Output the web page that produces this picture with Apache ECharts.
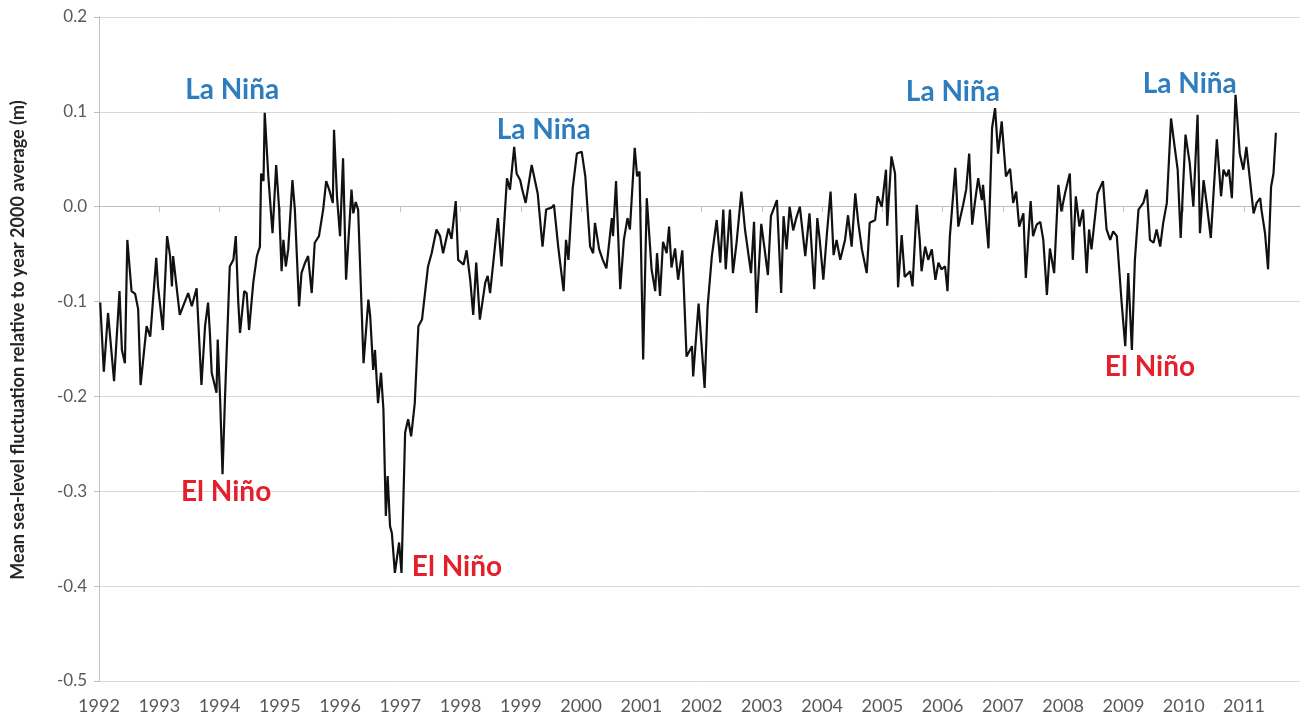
<!DOCTYPE html>
<html>
<head>
<meta charset="utf-8">
<title>Mean sea-level fluctuation</title>
<script src="https://cdn.jsdelivr.net/npm/echarts@6/dist/echarts.min.js"></script>
<style>
  html, body { margin: 0; padding: 0; background: #fff; }
  #chart { width: 1309px; height: 722px; }
</style>
</head>
<body>
<div id="chart"></div>
<script>
// decimal year of each sample
var years = [
  1992.02, 1992.08, 1992.15, 1992.25, 1992.34, 1992.38, 1992.43, 1992.47, 1992.54, 1992.60,
  1992.65, 1992.69, 1992.79, 1992.85, 1992.95, 1992.98, 1993.06, 1993.13, 1993.18, 1993.21,
  1993.23, 1993.34, 1993.48, 1993.54, 1993.62, 1993.70, 1993.76, 1993.81, 1993.84, 1993.87,
  1993.95, 1993.97, 1994.01, 1994.05, 1994.09, 1994.17, 1994.23, 1994.27, 1994.31, 1994.34,
  1994.41, 1994.45, 1994.49, 1994.56, 1994.62, 1994.67, 1994.69, 1994.73, 1994.75, 1994.81,
  1994.85, 1994.88, 1994.94, 1994.99, 1995.03, 1995.06, 1995.10, 1995.14, 1995.21, 1995.25,
  1995.32, 1995.36, 1995.42, 1995.47, 1995.53, 1995.58, 1995.65, 1995.72, 1995.77, 1995.82,
  1995.88, 1995.90, 1995.95, 1996.00, 1996.05, 1996.10, 1996.19, 1996.22, 1996.26, 1996.30,
  1996.39, 1996.47, 1996.50, 1996.55, 1996.58, 1996.63, 1996.68, 1996.72, 1996.76, 1996.79,
  1996.83, 1996.86, 1996.91, 1996.98, 1997.02, 1997.08, 1997.13, 1997.18, 1997.24, 1997.30,
  1997.36, 1997.46, 1997.52, 1997.60, 1997.66, 1997.71, 1997.80, 1997.85, 1997.92, 1997.96,
  1998.05, 1998.10, 1998.16, 1998.21, 1998.26, 1998.32, 1998.41, 1998.45, 1998.49, 1998.62,
  1998.68, 1998.77, 1998.82, 1998.89, 1998.93, 1998.99, 1999.02, 1999.08, 1999.18, 1999.28,
  1999.36, 1999.42, 1999.51, 1999.55, 1999.62, 1999.71, 1999.75, 1999.79, 1999.86, 1999.93,
  2000.01, 2000.07, 2000.15, 2000.20, 2000.23, 2000.30, 2000.36, 2000.42, 2000.51, 2000.53,
  2000.58, 2000.65, 2000.71, 2000.77, 2000.81, 2000.89, 2000.93, 2000.97, 2001.03, 2001.09,
  2001.17, 2001.23, 2001.26, 2001.31, 2001.36, 2001.42, 2001.46, 2001.50, 2001.56, 2001.61,
  2001.68, 2001.75, 2001.84, 2001.86, 2001.95, 2002.05, 2002.10, 2002.17, 2002.25, 2002.31,
  2002.36, 2002.40, 2002.47, 2002.52, 2002.58, 2002.66, 2002.72, 2002.82, 2002.87, 2002.91,
  2002.99, 2003.04, 2003.10, 2003.15, 2003.25, 2003.32, 2003.36, 2003.41, 2003.46, 2003.52,
  2003.57, 2003.63, 2003.72, 2003.79, 2003.87, 2003.92, 2003.96, 2004.02, 2004.08, 2004.14,
  2004.19, 2004.24, 2004.30, 2004.38, 2004.43, 2004.49, 2004.55, 2004.60, 2004.66, 2004.74,
  2004.79, 2004.88, 2004.92, 2004.99, 2005.06, 2005.08, 2005.15, 2005.21, 2005.26, 2005.32,
  2005.37, 2005.46, 2005.50, 2005.57, 2005.62, 2005.65, 2005.71, 2005.76, 2005.82, 2005.88,
  2005.93, 2005.98, 2006.04, 2006.08, 2006.12, 2006.21, 2006.26, 2006.34, 2006.39, 2006.44,
  2006.49, 2006.54, 2006.59, 2006.65, 2006.67, 2006.76, 2006.82, 2006.87, 2006.92, 2006.98,
  2007.05, 2007.12, 2007.17, 2007.22, 2007.27, 2007.34, 2007.38, 2007.46, 2007.50, 2007.56,
  2007.62, 2007.67, 2007.73, 2007.78, 2007.85, 2007.92, 2007.97, 2008.03, 2008.11, 2008.16,
  2008.21, 2008.27, 2008.33, 2008.39, 2008.43, 2008.47, 2008.57, 2008.66, 2008.72, 2008.78,
  2008.83, 2008.89, 2008.97, 2009.03, 2009.08, 2009.14, 2009.19, 2009.25, 2009.33, 2009.39,
  2009.44, 2009.50, 2009.55, 2009.61, 2009.66, 2009.72, 2009.79, 2009.85, 2009.90, 2009.95,
  2010.03, 2010.10, 2010.16, 2010.23, 2010.27, 2010.33, 2010.38, 2010.45, 2010.55, 2010.62,
  2010.66, 2010.71, 2010.75, 2010.80, 2010.86, 2010.93, 2010.99, 2011.04, 2011.10, 2011.16,
  2011.21, 2011.27, 2011.29, 2011.35, 2011.40, 2011.45, 2011.49, 2011.53
]

// sea level relative to 2000 average (m)
var seaLevel = [
  -0.101, -0.174, -0.112, -0.184, -0.089, -0.151, -0.165, -0.035, -0.089, -0.092,
  -0.108, -0.188, -0.126, -0.137, -0.054, -0.084, -0.130, -0.031, -0.052, -0.084,
  -0.052, -0.114, -0.091, -0.105, -0.086, -0.188, -0.126, -0.101, -0.133, -0.175,
  -0.196, -0.140, -0.203, -0.282, -0.203, -0.063, -0.056, -0.031, -0.099, -0.133,
  -0.089, -0.091, -0.130, -0.080, -0.052, -0.042, 0.035, 0.027, 0.099, 0.032,
  -0.003, -0.028, 0.044, -0.003, -0.068, -0.035, -0.063, -0.045, 0.028, -0.003,
  -0.105, -0.070, -0.059, -0.052, -0.091, -0.038, -0.031, -0.003, 0.027, 0.018,
  0.004, 0.081, 0.010, -0.031, 0.051, -0.077, 0.018, -0.007, 0.005, -0.003,
  -0.165, -0.098, -0.115, -0.172, -0.151, -0.207, -0.175, -0.214, -0.326, -0.284,
  -0.337, -0.344, -0.386, -0.354, -0.386, -0.238, -0.224, -0.242, -0.207, -0.126,
  -0.119, -0.063, -0.049, -0.024, -0.031, -0.049, -0.023, -0.034, 0.006, -0.056,
  -0.061, -0.046, -0.077, -0.114, -0.059, -0.119, -0.080, -0.073, -0.091, -0.012,
  -0.063, 0.030, 0.018, 0.063, 0.035, 0.028, 0.019, 0.004, 0.044, 0.014,
  -0.042, -0.003, -0.001, 0.002, -0.042, -0.089, -0.035, -0.056, 0.019, 0.056,
  0.058, 0.032, -0.042, -0.049, -0.017, -0.045, -0.056, -0.065, -0.012, -0.031,
  0.027, -0.087, -0.035, -0.012, -0.024, 0.062, 0.032, 0.037, -0.161, 0.009,
  -0.066, -0.089, -0.049, -0.094, -0.037, -0.049, -0.021, -0.064, -0.044, -0.077,
  -0.046, -0.158, -0.147, -0.179, -0.102, -0.191, -0.105, -0.052, -0.014, -0.059,
  -0.003, -0.066, -0.003, -0.070, -0.038, 0.016, -0.024, -0.070, -0.016, -0.112,
  -0.018, -0.042, -0.072, -0.010, 0.007, -0.091, -0.010, -0.045, 0.000, -0.025,
  -0.012, 0.000, -0.052, -0.007, -0.087, -0.012, -0.035, -0.077, -0.028, 0.016,
  -0.051, -0.035, -0.056, -0.035, -0.009, -0.042, 0.014, -0.017, -0.045, -0.070,
  -0.017, -0.014, 0.011, 0.000, 0.039, -0.020, 0.053, 0.035, -0.085, -0.030,
  -0.074, -0.068, -0.084, 0.002, -0.035, -0.068, -0.042, -0.056, -0.045, -0.077,
  -0.059, -0.066, -0.063, -0.089, -0.031, 0.041, -0.021, 0.002, 0.018, 0.056,
  -0.019, 0.007, 0.030, 0.007, 0.023, -0.044, 0.083, 0.104, 0.056, 0.090,
  0.032, 0.040, 0.004, 0.016, -0.021, -0.007, -0.075, 0.006, -0.031, -0.019,
  -0.016, -0.035, -0.093, -0.044, -0.070, 0.023, -0.005, 0.014, 0.035, -0.056,
  0.011, -0.021, -0.003, -0.070, -0.024, -0.045, 0.014, 0.027, -0.024, -0.035,
  -0.026, -0.031, -0.101, -0.147, -0.070, -0.151, -0.056, -0.003, 0.004, 0.018,
  -0.035, -0.038, -0.024, -0.042, -0.017, 0.004, 0.093, 0.063, 0.039, -0.033,
  0.076, 0.046, 0.000, 0.097, -0.028, 0.028, 0.004, -0.033, 0.071, 0.011,
  0.039, 0.032, 0.039, 0.009, 0.118, 0.056, 0.039, 0.063, 0.028, -0.007,
  0.004, 0.009, -0.003, -0.028, -0.066, 0.021, 0.035, 0.078
]

var yearTicks = [1992, 1993, 1994, 1995, 1996, 1997, 1998, 1999, 2000, 2001,
  2002, 2003, 2004, 2005, 2006, 2007, 2008, 2009, 2010, 2011]

// annotation anchors [year, value]
var laNinaAt = [[1994.21, 0.123], [1999.38, 0.081], [2006.17, 0.121], [2010.10, 0.129]]
var elNinoAt = [[1994.11, -0.301], [1997.94, -0.380], [2009.44, -0.169]]

var font = 'Lato, "Liberation Sans", sans-serif'

function createChart () {
  var myChart = echarts.init(document.getElementById('chart'))

  var points = years.map(function (y, i) { return [y, seaLevel[i]] })

  var marks = laNinaAt.map(function (p) {
    return { name: 'La Niña', coord: p, label: { color: '#2E7DBF' } }
  }).concat(elNinoAt.map(function (p) {
    return { name: 'El Niño', coord: p, label: { color: '#E3202C' } }
  }))

  var option = {
    animation: false,
    backgroundColor: '#fff',
    grid: {
      left: 99,
      right: 9,
      top: 17,
      bottom: 41
    },
    xAxis: {
      type: 'value',
      min: 1992,
      max: 2011.93,
      interval: 1,
      axisLine: { lineStyle: { color: '#bfbfbf', width: 1 } },
      axisTick: {
        show: true,
        length: 5,
        customValues: yearTicks,
        lineStyle: { color: '#bfbfbf' }
      },
      axisLabel: {
        customValues: yearTicks,
        color: '#595959',
        fontFamily: font,
        fontSize: 18,
        margin: 16,
        formatter: function (v) { return String(v) }
      },
      splitLine: { show: false }
    },
    yAxis: {
      type: 'value',
      min: -0.5,
      max: 0.2,
      interval: 0.1,
      axisLine: { show: true, lineStyle: { color: '#bfbfbf' } },
      axisTick: { show: true, length: 5, lineStyle: { color: '#bfbfbf' } },
      axisLabel: {
        color: '#595959',
        fontFamily: font,
        fontSize: 17,
        margin: 12,
        formatter: function (v) {
          if (Math.abs(v) < 1e-9) v = 0
          return v.toFixed(1)
        }
      },
      splitLine: { lineStyle: { color: '#d9d9d9', width: 1 } }
    },
    graphic: [{
      type: 'text',
      x: 18,
      y: 340,
      rotation: Math.PI / 2,
      style: {
        text: 'Mean sea-level fluctuation relative to year 2000 average (m)',
        font: 'bold 18px ' + font,
        fill: '#262626',
        align: 'center',
        verticalAlign: 'middle'
      }
    }],
    series: [{
      type: 'line',
      data: points,
      showSymbol: false,
      symbol: 'none',
      lineStyle: { color: '#111', width: 2.2 },
      markPoint: {
        symbol: 'circle',
        symbolSize: 0,
        label: {
          show: true,
          position: 'inside',
          formatter: '{b}',
          fontFamily: font,
          fontWeight: 'bold',
          fontSize: 28
        },
        data: marks
      }
    }]
  }
  myChart.setOption(option)
}

createChart()
</script>
</body>
</html>
